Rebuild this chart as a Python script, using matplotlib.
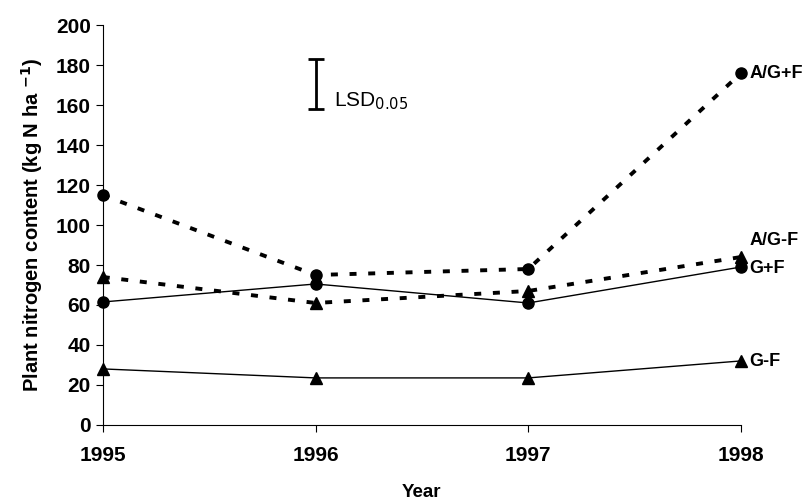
import matplotlib.pyplot as plt

plt.rcParams['font.family'] = ['Liberation Sans', 'DejaVu Sans']

years = [1995, 1996, 1997, 1998]
ag_plus_f = [115, 75, 78, 176]
ag_minus_f = [74, 61, 67, 84]
g_plus_f = [61.5, 70.5, 61, 79]
g_minus_f = [28, 23.5, 23.5, 32]
lsd_low, lsd_high = 158, 183
lsd_x = 1996


def main():
    fig = plt.figure(figsize=(8.09, 5.04), dpi=100)
    ax = fig.add_axes([0.127, 0.157, 0.789, 0.793])

    dash = dict(color='black', linestyle=(0, (1.8, 3.0)), linewidth=2.8)
    solid = dict(color='black', linestyle='-', linewidth=1.0)
    ax.plot(years, ag_plus_f, marker='o', markersize=8, clip_on=False, **dash)
    ax.plot(years, ag_minus_f, marker='^', markersize=8, clip_on=False, **dash)
    ax.plot(years, g_plus_f, marker='o', markersize=8, clip_on=False, **solid)
    ax.plot(years, g_minus_f, marker='^', markersize=8, clip_on=False, **solid)

    # LSD bar
    ax.errorbar([lsd_x], [(lsd_low + lsd_high) / 2], yerr=[(lsd_high - lsd_low) / 2],
                color='black', capsize=6, capthick=2, elinewidth=2, fmt='none')
    ax.text(lsd_x + 0.085, 162, r'LSD$_{0.05}$', fontsize=15, va='center', ha='left')

    lab = dict(fontsize=13, fontweight='bold', va='center', ha='left', clip_on=False)
    ax.text(1998.04, 176, 'A/G+F', **lab)
    ax.text(1998.04, 92.5, 'A/G-F', **lab)
    ax.text(1998.04, 78, 'G+F', **lab)
    ax.text(1998.04, 31.5, 'G-F', **lab)

    ax.set_xlim(1995, 1998)
    ax.set_ylim(0, 200)
    ax.set_xticks(years)
    ax.set_yticks(range(0, 201, 20))
    ax.spines['top'].set_visible(False)
    ax.spines['right'].set_visible(False)
    ax.spines['left'].set_linewidth(0.8)
    ax.spines['bottom'].set_linewidth(0.8)
    ax.tick_params(axis='both', direction='out', length=5, width=0.8, labelsize=15)
    for t in ax.get_xticklabels() + ax.get_yticklabels():
        t.set_fontweight('bold')
    ax.tick_params(axis='x', pad=10)

    ax.set_xlabel('Year', fontsize=13.5, fontweight='bold', labelpad=14)
    ax.set_ylabel(r'Plant nitrogen content (kg N ha $^{\mathbf{-1}}$)', fontsize=14.5,
                  fontweight='bold', labelpad=8)

    fig.savefig('out.png', dpi=100)


if __name__ == '__main__':
    main()
